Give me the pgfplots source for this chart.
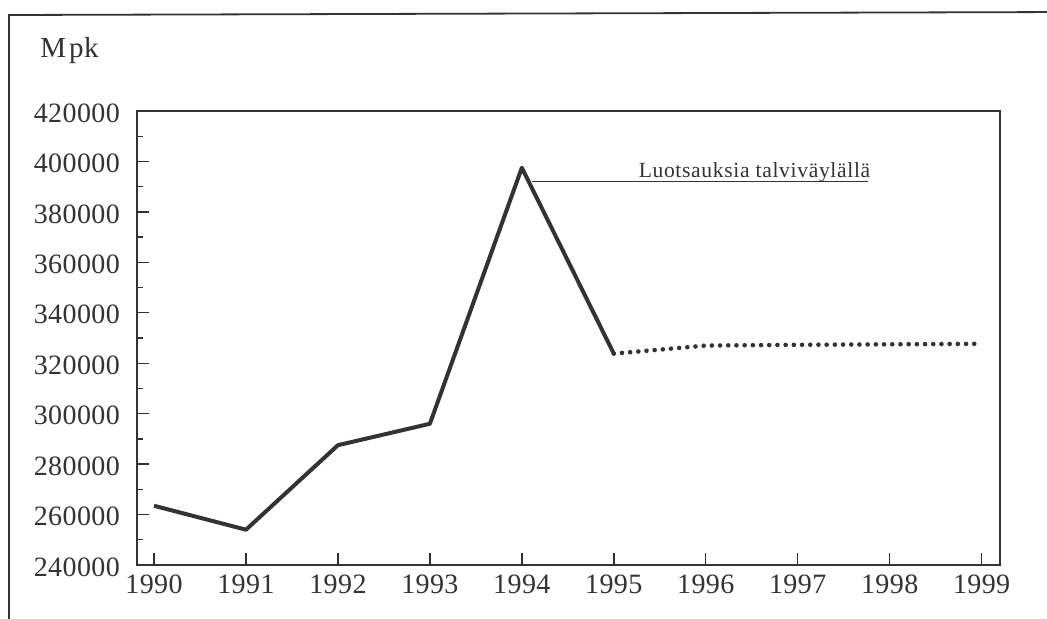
\documentclass[border=0pt]{standalone}
\usepackage{pgfplots}
\pgfplotsset{compat=1.18}
\usepackage{fontspec}
\setmainfont{Liberation Serif}
\newfontfamily\spaced[LetterSpace=1.5]{Liberation Serif}
\newfontfamily\spacedsmall[LetterSpace=3]{Liberation Serif}
\definecolor{ink}{HTML}{333333}
\begin{document}
\begin{tikzpicture}[x=0.5pt,y=0.5pt]
\useasboundingbox (0,0) rectangle (1047,618);
\fill[white] (0,0) rectangle (1047,618);
% outer frame
\draw[ink, line width=0.9pt] (9,-20) -- (9,603) -- (1070,606);
\node[anchor=base west, font=\spaced\fontsize{14.5}{17}\selectfont, text=ink, inner sep=0pt] at (40,561) {M\kern1.5pt pk};
\begin{axis}[
  at={(68.5pt,26.5pt)}, anchor=south west,
  scale only axis, width=431.5pt, height=227pt,
  xmin=1989.815, xmax=1999.2,
  ymin=240000, ymax=420000,
  axis line style={ink, line width=0.8pt},
  xtick={1990,1991,1992,1993,1994,1995,1996,1997,1998,1999},
  xticklabels={1990,1991,1992,1993,1994,1995,1996,1997,1998,1999},
  ytick={240000,260000,280000,300000,320000,340000,360000,380000,400000,420000},
  yticklabels={240000,260000,280000,300000,320000,340000,360000,380000,400000,420000},
  minor ytick={250000,270000,290000,310000,330000,350000,370000,390000,410000},
  tick align=inside,
  xtick pos=bottom, ytick pos=left,
  major tick length=6pt, minor tick length=3pt,
  every tick/.style={ink, line width=0.7pt},
  scaled y ticks=false,
  tick label style={font=\spaced\fontsize{14}{16}\selectfont, text=ink},
  yticklabel style={xshift=-5pt, yshift=-1pt},
  xticklabel style={yshift=-1.5pt},
  clip=false,
]
\addplot[ink, line width=2pt, line join=round] coordinates {
  (1990,263500) (1991,254000) (1992,287500) (1993,296000) (1994,397500) (1995,323800)
};
\addplot[ink, line width=2.3pt, line cap=round, dash pattern=on 0pt off 4.1pt] coordinates {
  (1995,323800) (1996,327000) (1997,327300) (1998,327500) (1998.95,327700)
};
\addplot[ink, line width=0.8pt] coordinates {(1994.11,392000) (1997.76,392000)};
\node[anchor=base, font=\spacedsmall\fontsize{10.8}{12}\selectfont, text=ink, inner sep=0pt] at (axis cs:1996.53,393800) {Luotsauksia talviväylällä};
\end{axis}
\end{tikzpicture}
\end{document}
